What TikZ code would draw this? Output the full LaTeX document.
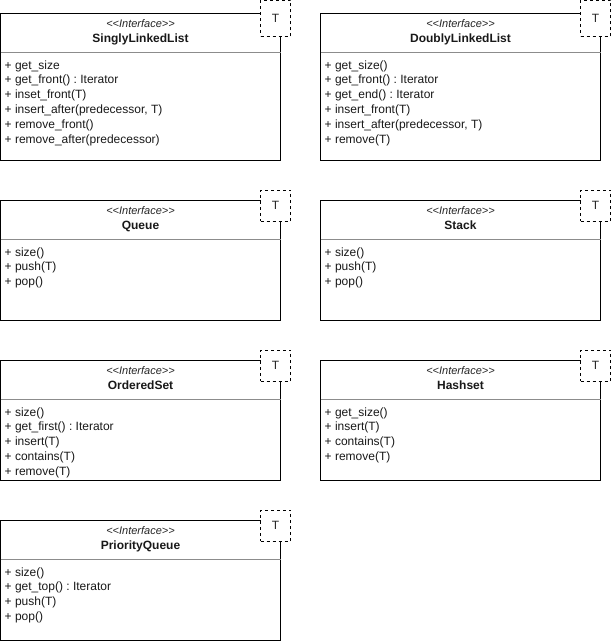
\documentclass[tikz,border=0pt]{standalone}
\usepackage{fontspec}
\setmainfont{Liberation Sans}
\frenchspacing
\tikzset{
  classbox/.style={draw=black, line width=1pt, fill=white, inner sep=0pt, outer sep=0pt, anchor=north west, minimum width=280pt},
  sepline/.style={draw=black!45, line width=1pt},
  tparam/.style={draw=black, line width=1pt, fill=white, dash pattern=on 3pt off 3pt, inner sep=0pt, outer sep=0pt, minimum width=30pt, anchor=north west},
  stereo/.style={font=\fontsize{11}{13}\selectfont\itshape, anchor=base, inner sep=0pt, text=black!85},
  ctitle/.style={font=\fontsize{12}{14}\selectfont\bfseries, anchor=base, inner sep=0pt, text=black!90},
  member/.style={font=\fontsize{12}{14}\selectfont, anchor=base west, inner sep=0pt, text=black!90},
  tlabel/.style={font=\fontsize{12}{14}\selectfont, anchor=center, inner sep=0pt, text=black!85},
}
% #1 name, #2 left x, #3 top, #4 height, #5 title, #6 T box top, #7 T box height, #8 members
\newcommand\umlclass[8]{%
  \node[classbox, minimum height=#4pt] (#1) at (#2,#3) {};
  \coordinate (#1-sl) at (#2,#3+39);
  \coordinate (#1-sr) at (#2+280,#3+39);
  \draw[sepline] (#1-sl) -- (#1-sr);
  \node[stereo] (#1-st) at (#2+140,#3+14) {<\kern0pt<Interface>\kern0pt>};
  \node[ctitle] (#1-ti) at (#2+140,#3+29) {#5};
  \foreach \m [count=\i] in {#8} {
    \node[member] (#1-m\i) at (#2+4,#3+39+16.6+\i*14.8-14.8) {\m};
  }
  \node[tparam, minimum height=#7pt] (#1-T) at (#2+260,#6) {};
  \node[tlabel] (#1-Tl) at (#1-T.center) {T};
}
\begin{document}
\begin{tikzpicture}[x=1pt,y=-1pt]
\useasboundingbox (0,0) rectangle (611,642);
\umlclass{sll}{0.5}{13.5}{147}{SinglyLinkedList}{0.5}{36}{
  {+ get\_size},
  {+ get\_front() : Iterator},
  {+ inset\_front(T)},
  {+ insert\_after(predecessor, T)},
  {+ remove\_front()},
  {+ remove\_after(predecessor)}}
\umlclass{dll}{320.5}{13.5}{147}{DoublyLinkedList}{0.5}{36}{
  {+ get\_size()},
  {+ get\_front() : Iterator},
  {+ get\_end() : Iterator},
  {+ insert\_front(T)},
  {+ insert\_after(predecessor, T)},
  {+ remove(T)}}
\umlclass{queue}{0.5}{200.5}{120}{Queue}{190}{31}{
  {+ size()},
  {+ push(T)},
  {+ pop()}}
\umlclass{stack}{320.5}{200.5}{120}{Stack}{190}{31}{
  {+ size()},
  {+ push(T)},
  {+ pop()}}
\umlclass{oset}{0.5}{360.5}{120}{OrderedSet}{350}{31}{
  {+ size()},
  {+ get\_first() : Iterator},
  {+ insert(T)},
  {+ contains(T)},
  {+ remove(T)}}
\umlclass{hset}{320.5}{360.5}{120}{Hashset}{350}{31}{
  {+ get\_size()},
  {+ insert(T)},
  {+ contains(T)},
  {+ remove(T)}}
\umlclass{pq}{0.5}{520.5}{120}{PriorityQueue}{510}{31}{
  {+ size()},
  {+ get\_top() : Iterator},
  {+ push(T)},
  {+ pop()}}
\end{tikzpicture}
\end{document}
